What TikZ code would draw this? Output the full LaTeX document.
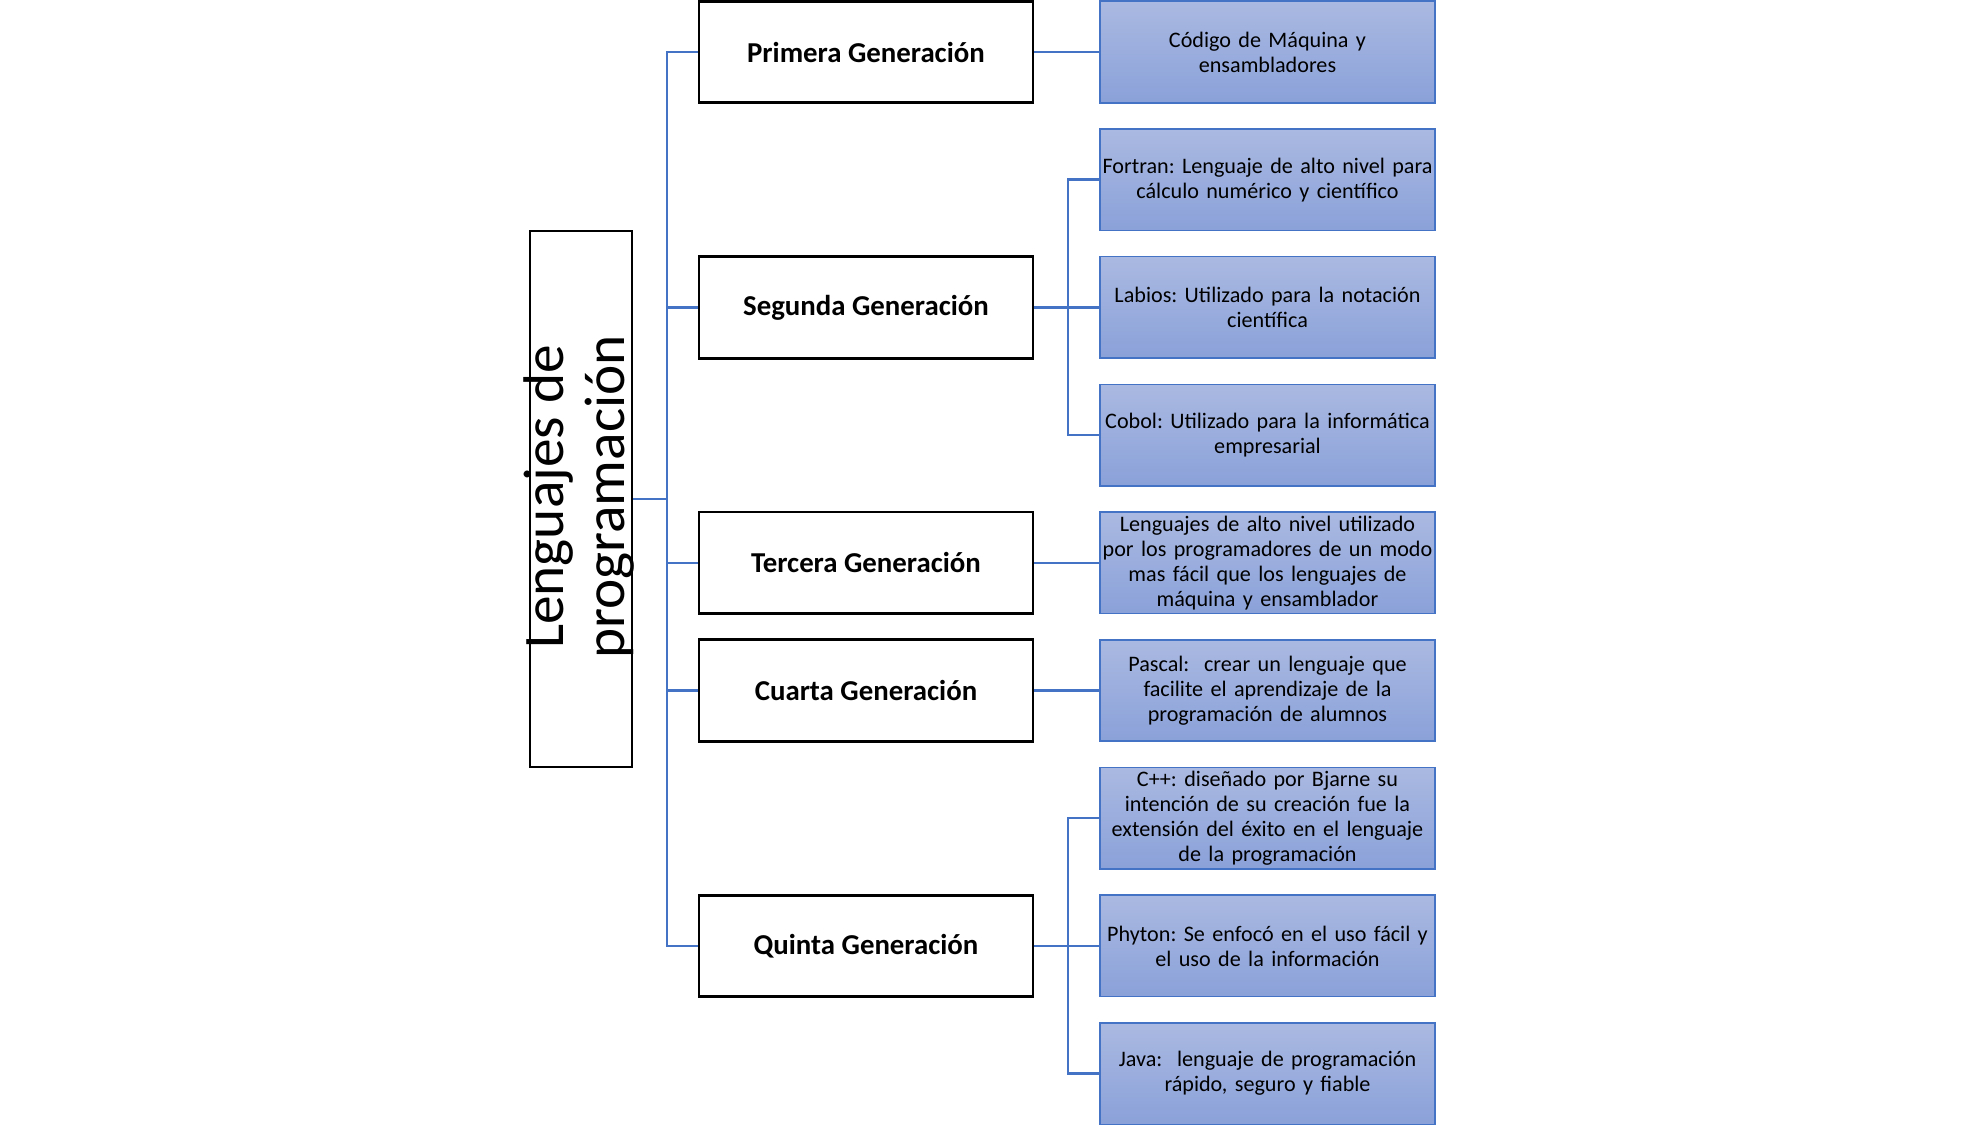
\documentclass[tikz,border=0pt]{standalone}
\usepackage{fontspec}
\setmainfont{Carlito}
\frenchspacing
\definecolor{lpBlue}{HTML}{4472C4}
\definecolor{lpTop}{HTML}{AAB9E1}
\definecolor{lpBottom}{HTML}{8AA1D9}
\tikzset{
  lp root/.style={draw=black, line width=0.8pt, minimum width=1.02cm, minimum height=5.36cm, inner sep=0pt},
  lp gen/.style={draw=black, line width=0.8pt, fill=white, minimum width=3.34cm, minimum height=1.015cm, inner sep=0pt, font=\fontsize{8.2}{9.8}\selectfont\bfseries},
  lp leaf/.style={draw=lpBlue, line width=0.45pt, top color=lpTop, bottom color=lpBottom, minimum width=3.35cm, minimum height=1.015cm, inner sep=0pt, text width=3.34cm, align=center, font=\fontsize{6.3}{7.1}\selectfont},
  lp link/.style={draw=lpBlue, line width=0.7pt},
}

\begin{document}
\begin{tikzpicture}
  \useasboundingbox (0,0) rectangle (19.65,-11.25);

  % Root box with rotated title
  \node[lp root] (root) at (5.81,-4.99) {};
  \node[rotate=90, align=center, font=\fontsize{16.3}{17.5}\selectfont] (title) at (5.79,-4.97) {Lenguajes de\\programación};

  % Generations
  \node[lp gen] (g1) at (8.66,-0.52) {Primera Generación};
  \node[lp gen] (g2) at (8.66,-3.074) {Segunda Generación};
  \node[lp gen] (g3) at (8.66,-5.628) {Tercera Generación};
  \node[lp gen] (g4) at (8.66,-6.905) {Cuarta Generación};
  \node[lp gen] (g5) at (8.66,-9.459) {Quinta Generación};

  % Descriptions
  \node[lp leaf] (maquina) at (12.675,-0.52) {Código de Máquina y\\ensambladores};
  \node[lp leaf] (fortran) at (12.675,-1.797) {\makebox[0pt]{Fortran: Lenguaje de alto nivel para}\\cálculo numérico y científico};
  \node[lp leaf] (labios) at (12.675,-3.074) {Labios: Utilizado para la notación\\científica};
  \node[lp leaf] (cobol) at (12.675,-4.351) {Cobol: Utilizado para la informática\\empresarial};
  \node[lp leaf] (alto) at (12.675,-5.628) {Lenguajes de alto nivel utilizado\\por los programadores de un modo\\mas fácil que los lenguajes de\\máquina y ensamblador};
  \node[lp leaf] (pascal) at (12.675,-6.905) {Pascal:\ \ crear un lenguaje que\\facilite el aprendizaje de la\\programación de alumnos};
  \node[lp leaf] (cpp) at (12.675,-8.182) {C++: diseñado por Bjarne su\\intención de su creación fue la\\extensión del éxito en el lenguaje\\de la programación};
  \node[lp leaf] (phyton) at (12.675,-9.459) {Phyton: Se enfocó en el uso fácil y\\el uso de la información};
  \node[lp leaf] (java) at (12.675,-10.736) {Java:\ \ lenguaje de programación\\rápido, seguro y fiable};

  % Connectors
  \foreach \g in {g1,g2,g3,g4,g5}
    \draw[lp link] (root.east) -- ++(0.335,0) |- (\g.west);
  \foreach \leaf in {fortran,labios,cobol}
    \draw[lp link] (g2.east) -- ++(0.335,0) |- (\leaf.west);
  \foreach \leaf in {cpp,phyton,java}
    \draw[lp link] (g5.east) -- ++(0.335,0) |- (\leaf.west);
  \draw[lp link] (g1.east) -- (maquina.west);
  \draw[lp link] (g3.east) -- (alto.west);
  \draw[lp link] (g4.east) -- (pascal.west);
\end{tikzpicture}
\end{document}
